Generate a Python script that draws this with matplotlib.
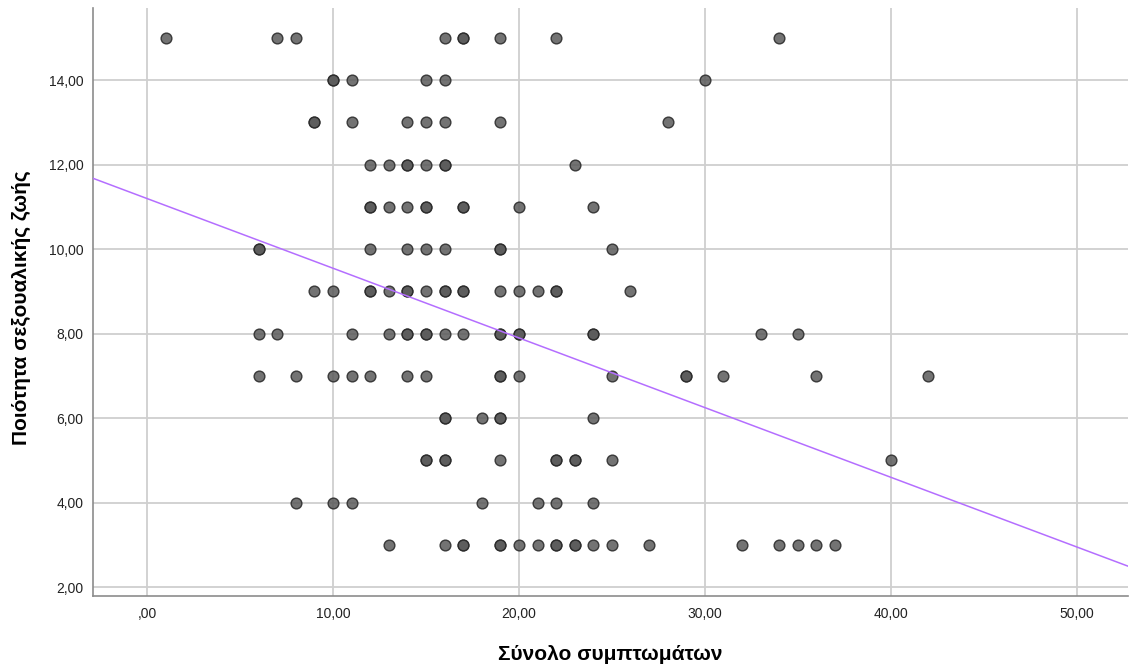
import matplotlib
matplotlib.use("Agg")
import matplotlib.pyplot as plt
from matplotlib.ticker import FuncFormatter

plt.rcParams['font.family'] = ['Liberation Sans', 'DejaVu Sans']

# symptom total per quality level (repeated values = overlapping cases)
quality_levels = [15, 14, 13, 12, 11, 10, 9, 8, 7, 6, 5, 4, 3]
symptoms_by_level = [
    [1, 7, 8, 16, 17, 17, 19, 22, 34],
    [10, 10, 11, 15, 16, 30],
    [9, 9, 11, 14, 15, 16, 19, 28],
    [12, 13, 14, 14, 15, 16, 16, 23],
    [12, 12, 13, 14, 15, 15, 17, 17, 20, 24],
    [6, 6, 12, 14, 15, 16, 19, 19, 25],
    [9, 10, 12, 12, 13, 14, 14, 15, 16, 16, 17, 17, 19, 20, 21, 22, 22, 26],
    [6, 7, 11, 13, 14, 14, 15, 15, 16, 17, 19, 19, 20, 20, 24, 24, 33, 35],
    [6, 8, 10, 11, 12, 14, 15, 19, 19, 20, 25, 29, 29, 31, 36, 42],
    [16, 16, 18, 19, 19, 24],
    [15, 15, 16, 16, 19, 22, 22, 23, 23, 25, 40],
    [8, 10, 11, 18, 21, 22, 24],
    [13, 16, 17, 17, 19, 19, 20, 21, 22, 22, 23, 23, 24, 25, 27, 32, 34, 35, 36, 37],
]

# fitted line: quality = intercept + slope * symptoms
fit_intercept = 11.2
fit_slope = -0.165

x_ticks = [0, 10, 20, 30, 40, 50]
y_ticks = [2, 4, 6, 8, 10, 12, 14]

xs, ys = [], []
for level, vals in zip(quality_levels, symptoms_by_level):
    for v in vals:
        xs.append(v)
        ys.append(level)

fig = plt.figure(figsize=(11.29, 6.68), dpi=100)
ax = fig.add_axes([93 / 1129, 1 - 596 / 668, (1128 - 93) / 1129, (596 - 8) / 668])

xlim = (-2.9, 52.75)
ax.set_xlim(*xlim)
ax.set_ylim(1.79, 15.71)

ax.grid(True, color='#cfcfcf', linewidth=1.3)
ax.set_axisbelow(True)

ax.scatter(xs, ys, s=60, facecolor='#5a5a5a', edgecolor='#262626',
           linewidth=1.0, alpha=0.85, zorder=3)

line_x = list(xlim)
line_y = [fit_intercept + fit_slope * x for x in line_x]
ax.plot(line_x, line_y, color='#b46eff', linewidth=1.1, zorder=4)

def comma_fmt(v, pos):
    s = f"{v:.2f}".replace('.', ',')
    if s.startswith('0,'):
        s = s[1:]
    return s

ax.set_xticks(x_ticks)
ax.set_yticks(y_ticks)
ax.xaxis.set_major_formatter(FuncFormatter(comma_fmt))
ax.yaxis.set_major_formatter(FuncFormatter(comma_fmt))
ax.tick_params(axis='both', length=0, labelsize=10, colors='#222222')
ax.tick_params(axis='x', pad=8)
ax.tick_params(axis='y', pad=7)

for side in ['top', 'right']:
    ax.spines[side].set_visible(False)
for side in ['left', 'bottom']:
    ax.spines[side].set_color('#8c8c8c')
    ax.spines[side].set_linewidth(1.2)

# axis titles
fig.text(610 / 1129, 1 - 655 / 668, "Σύνολο συμπτωμάτων", fontsize=15,
         fontweight='bold', ha='center', va='center')
fig.text(21 / 1129, 1 - 308 / 668, "Ποιότητα σεξουαλικής ζωής", fontsize=15,
         fontweight='bold', ha='center', va='center', rotation=90)

fig.savefig("out.png", dpi=100)
